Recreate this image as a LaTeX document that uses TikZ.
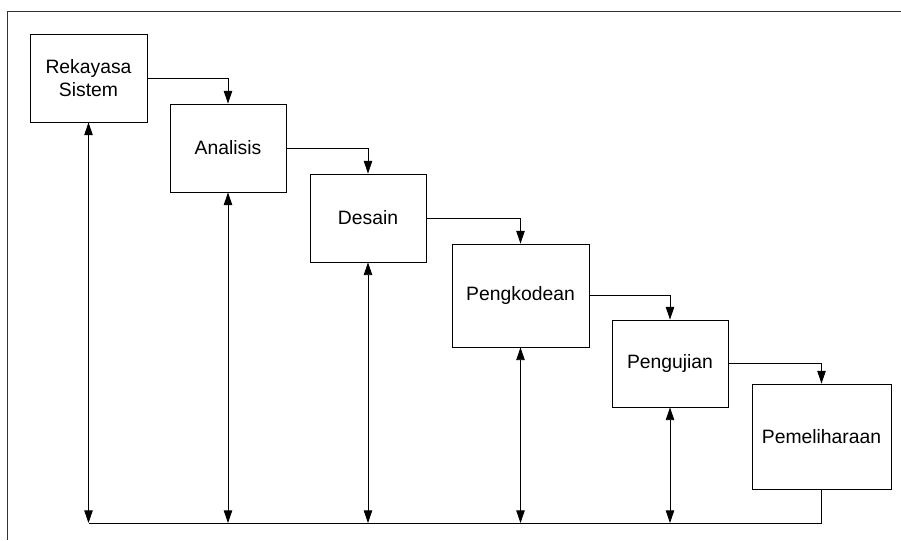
\documentclass[tikz,border=0pt]{standalone}
\usepackage{fontspec}
\setmainfont{Liberation Sans}
\usetikzlibrary{arrows.meta}
\tikzset{>={Triangle[length=9pt,width=6pt]}}
\tikzset{phase/.style={draw,line width=0.6pt,inner sep=0pt,align=center,
  minimum width=2.9cm,minimum height=2.2cm,font=\fontsize{13.75}{16}\selectfont}}
\tikzset{flow/.style={line width=0.6pt,->}}

\begin{document}
\begin{tikzpicture}[x=0.025cm,y=-0.025cm]
  \useasboundingbox (0,0) rectangle (901,540);
  \draw[line width=0.6pt,black!80] (7,540) -- (7,11) -- (901,11); % frame
  \node[phase,minimum width=2.925cm] (rek) at (88.5,78) {Rekayasa\\Sistem};
  \node[phase] (ana) at (228,148) {Analisis};
  \node[phase] (des) at (368,218) {Desain};
  \node[phase,minimum width=3.425cm,minimum height=2.575cm] (kod) at (520.5,295.5) {Pengkodean};
  \node[phase,minimum height=2.175cm] (uji) at (670,363.5) {Pengujian};
  \node[phase,minimum width=3.475cm,minimum height=2.625cm] (pem) at (821.5,436.5) {Pemeliharaan};
  \coordinate (base) at (0,523);
  % waterfall steps
  \draw[flow] (rek.east) -| (ana.north);
  \draw[flow] (ana.east) -| (des.north);
  \draw[flow] (des.east) -| (kod.north);
  \draw[flow] (kod.east) -| (uji.north);
  \draw[flow] (uji.east) -| (pem.north);
  % feedback
  \draw[line width=0.6pt] (pem.south) |- (rek.south |- base);
  \foreach \n in {rek,ana,des,kod,uji}
    \draw[line width=0.6pt,<->] (\n.south) -- (\n.south |- base);
\end{tikzpicture}
\end{document}
